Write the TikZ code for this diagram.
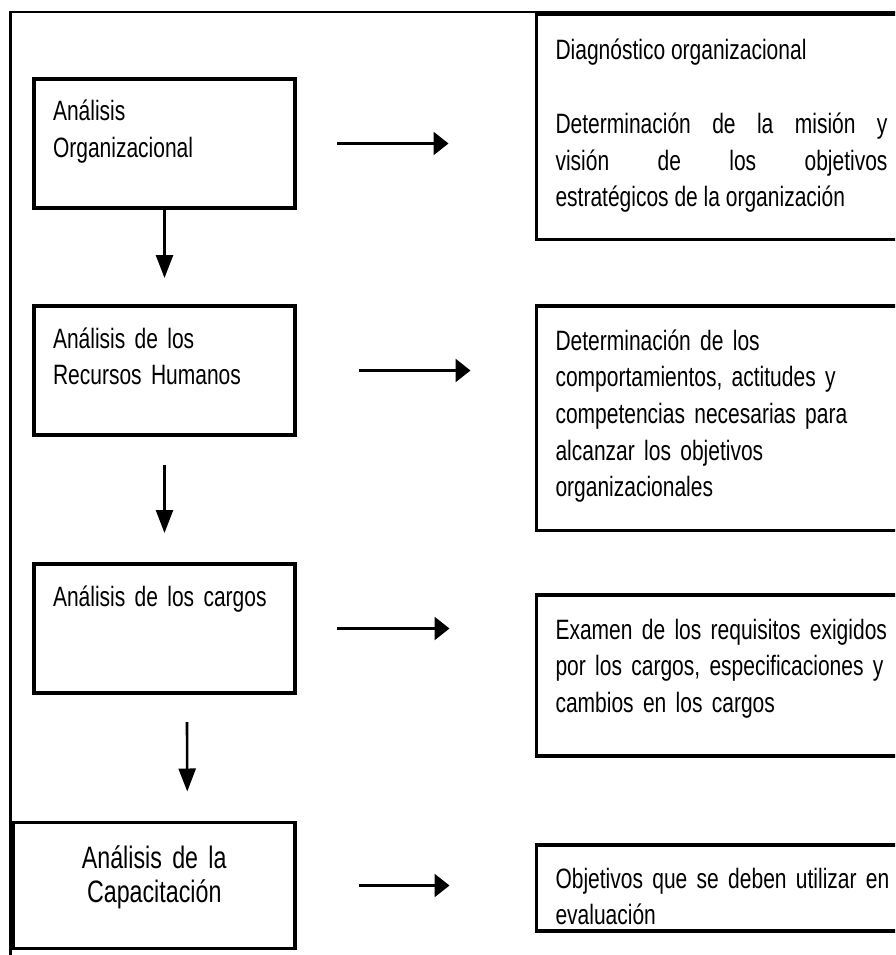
\documentclass[tikz,border=0pt]{standalone}
\usepackage{fontspec}
\setmainfont{Liberation Sans}[FakeStretch=0.75]
\usepackage{tikz}
\usetikzlibrary{arrows.meta, positioning}

\begin{document}
\begin{tikzpicture}[
    x=1pt, y=-1pt,
    lbox/.style={rectangle, draw, line width=3.5pt, anchor=north west, outer sep=0pt, inner xsep=19pt, inner ysep=0pt, text width=223pt, align=left, text height=42pt, text depth=87pt, font=\fontsize{28}{36.7}\selectfont},
    rbox/.style={rectangle, draw, line width=3.5pt, anchor=north west, outer sep=0pt, inner xsep=19pt, inner ysep=0pt, text width=345pt, align=left, font=\fontsize{28}{36.7}\selectfont},
    downarrow/.style={-{Triangle[length=23pt, width=17pt]}, line width=2.6pt},
    sidearrow/.style={-{Triangle[length=15pt, width=23pt]}, line width=2.6pt},
]
\useasboundingbox (0,0) rectangle (895,955);
\fill[white] (0,0) rectangle (895,955);
\clip (0,0) rectangle (895,955);

% frame
\draw[line width=2.5pt] (10.5,960) -- (10.5,12) -- (900,12);

% left column
\node[lbox] (org) at (34,79) {Análisis\\Organizacional};
\node[lbox] (rrhh) at (34,306) {Análisis de los\\Recursos Humanos};
\node[lbox] (cargos) at (34,564) {Análisis de los cargos};
\node[lbox, text width=243.5pt, align=center, text height=45.5pt, text depth=80.5pt, font=\fontsize{31}{34}\selectfont] (capac) at (13.5,822.5) {Análisis de la\\Capacitación};

% right column
\node[rbox, text width=332pt, align=justify, text height=46pt, text depth=179.5pt] (diag) at (536.5,14) {Diagnóstico organizacional\\[36.7pt]Determinación de la misión y\linebreak visión de los objetivos\linebreak estratégicos de la organización};
\node[rbox, text height=44pt, text depth=180.5pt] (comp) at (536.5,306) {Determinación de los\\comportamientos, actitudes y\\competencias necesarias para\\alcanzar los objetivos\\organizacionales};
\node[rbox, text height=44pt, text depth=117pt] (exam) at (536.5,595) {Examen de los requisitos exigidos\\por los cargos, especificaciones y\\cambios en los cargos};
\node[rbox, text height=43pt, text depth=43pt] (obj) at (536.5,845) {Objetivos que se deben utilizar en\\evaluación};

% arrows down
\draw[downarrow] (org.south) -- ([yshift=28pt]rrhh.north);
\draw[downarrow] ([yshift=-30pt]rrhh.south) -- ([yshift=31pt]cargos.north);
\draw[downarrow] ([xshift=22.5pt, yshift=-29pt]cargos.south) -- ([xshift=33pt, yshift=31pt]capac.north);

% arrows right
\draw[sidearrow] ([xshift=42pt]org.east) -- ([xshift=-88pt]org.east -| diag.west);
\draw[sidearrow] ([xshift=64pt]rrhh.east) -- ([xshift=-66pt]rrhh.east -| comp.west);
\draw[sidearrow] ([xshift=42pt]cargos.east) -- ([xshift=-87pt]cargos.east -| exam.west);
\draw[sidearrow] ([xshift=64pt]capac.east) -- ([xshift=-87pt]capac.east -| obj.west);

\end{tikzpicture}
\end{document}
